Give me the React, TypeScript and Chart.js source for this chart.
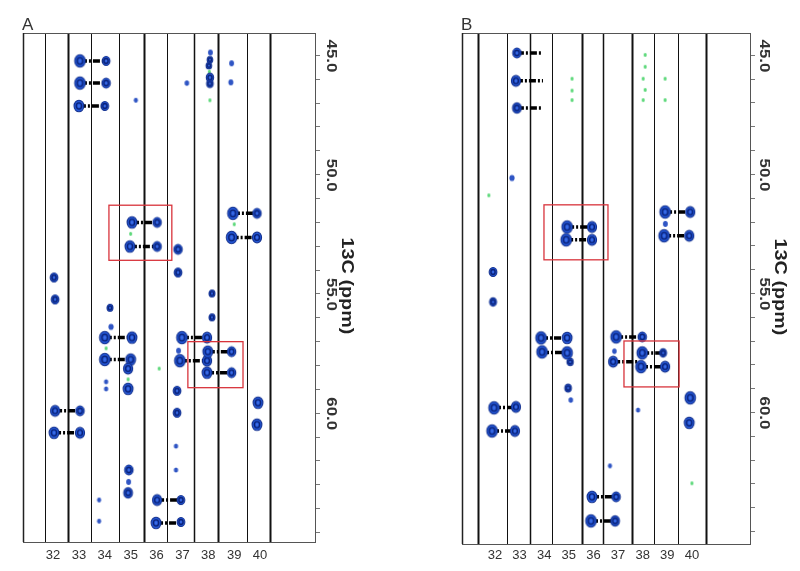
import React, { useEffect, useRef } from "react";
import { Chart, registerables } from "chart.js";
Chart.register(...registerables);

// ---------- shared axis text ----------
const stripLabels = [32, 33, 34, 35, 36, 37, 38, 39, 40];
const ppmLabelTicks = [45, 50, 55, 60];
const ppmMinorTicks = [45, 46, 47, 48, 49, 50, 51, 52, 53, 54, 55, 56, 57, 58, 59, 60, 61, 62, 63, 64, 65];
const axisTitle = "13C (ppm)";

// ---------- Panel A ----------
const edgesA = [31.69, 32.58, 33.47, 34.55, 35.51, 36.4, 37.44, 38.37, 39.49, 40.38];
const edgeWeightA = [1, 2, 1, 1, 2, 1, 1.5, 2, 1, 2];
// [strip position, 13C ppm, relative intensity]
const peaksA: [number, number, number][] = [
  [33.04, 45.25, 1], [34.05, 45.25, 0.6],
  [33.04, 46.18, 1], [34.05, 46.18, 0.7],
  [33.0, 47.14, 0.9], [34.0, 47.14, 0.6],
  [38.08, 44.9, 0.2], [38.06, 45.2, 0.3], [38.02, 45.45, 0.3], [38.06, 45.95, 0.55], [38.06, 46.2, 0.45],
  [38.9, 45.35, 0.2], [38.87, 46.15, 0.22], [37.17, 46.18, 0.15], [35.2, 46.9, 0.1],
  [35.05, 52.02, 0.9], [36.02, 52.02, 0.7], [34.97, 53.03, 0.9], [36.02, 53.03, 0.7],
  [36.83, 53.15, 0.7], [36.83, 54.12, 0.6],
  [38.95, 51.64, 1], [39.88, 51.64, 0.7], [38.9, 52.65, 1], [39.88, 52.65, 0.8],
  [32.04, 54.33, 0.6], [32.08, 55.25, 0.6],
  [34.2, 55.6, 0.35], [34.24, 56.4, 0.25],
  [34.0, 56.85, 1], [35.05, 56.85, 0.9], [34.0, 57.77, 1], [35.0, 57.77, 0.9],
  [34.9, 58.15, 0.8], [34.9, 59.0, 0.9], [34.05, 58.7, 0.12], [34.05, 59.0, 0.12],
  [32.08, 59.92, 0.8], [33.04, 59.92, 0.7], [32.04, 60.84, 0.9], [33.04, 60.84, 0.8],
  [34.93, 62.4, 0.7], [34.92, 62.9, 0.2], [34.9, 63.36, 0.75],
  [36.02, 63.66, 0.8], [36.94, 63.66, 0.6], [35.98, 64.62, 0.9], [36.94, 64.58, 0.6],
  [33.78, 63.66, 0.1], [33.78, 64.55, 0.1],
  [36.98, 56.85, 1], [37.95, 56.85, 0.8], [36.9, 57.82, 1], [37.95, 57.82, 0.8],
  [36.85, 57.4, 0.2],
  [37.98, 57.44, 0.9], [38.9, 57.44, 0.7], [37.95, 58.32, 0.9], [38.9, 58.32, 0.7],
  [36.79, 59.08, 0.6], [36.79, 60.0, 0.6], [36.75, 61.4, 0.12], [36.75, 62.4, 0.12],
  [38.14, 55.0, 0.35], [38.14, 56.0, 0.35],
  [39.92, 59.58, 0.9], [39.88, 60.5, 0.9],
];
const greenA: [number, number][] = [
  [38.06, 46.9], [38.04, 45.7], [36.1, 58.15], [35.0, 52.5], [39.0, 52.1], [34.05, 57.3], [34.9, 58.6],
];
// [from strip, to strip, 13C ppm]
const linksA: [number, number, number][] = [
  [33.04, 34.05, 45.25], [33.04, 34.05, 46.18], [33.0, 34.0, 47.14],
  [35.05, 36.02, 52.02], [34.97, 36.02, 53.03],
  [38.95, 39.88, 51.64], [38.9, 39.88, 52.65],
  [34.0, 35.05, 56.85], [34.0, 35.0, 57.77],
  [32.08, 33.04, 59.92], [32.04, 33.04, 60.84],
  [36.02, 36.94, 63.66], [35.98, 36.94, 64.62],
  [36.98, 37.95, 56.85], [36.9, 37.95, 57.82],
  [37.98, 38.9, 57.44], [37.95, 38.9, 58.32],
];
// [x1, x2, ppm1, ppm2]
const boxesA: [number, number, number, number][] = [
  [34.16, 36.59, 51.3, 53.61],
  [37.21, 39.34, 57.02, 58.95],
];

// ---------- Panel B ----------
const edgesB = [31.31, 32.49, 33.42, 34.32, 35.54, 36.39, 37.57, 38.46, 39.44, 40.58];
const edgeWeightB = [2, 1, 1.5, 1, 2, 1.5, 2, 1, 1, 2];
const peaksB: [number, number, number][] = [
  [32.89, 44.92, 0.7], [32.85, 46.09, 0.8], [32.89, 47.23, 0.75],
  [32.69, 50.17, 0.25],
  [31.92, 54.12, 0.6], [31.92, 55.38, 0.5],
  [34.93, 52.23, 1], [35.94, 52.23, 0.8], [34.89, 52.77, 1], [35.94, 52.77, 0.8],
  [38.91, 51.6, 1], [39.93, 51.6, 0.8], [38.87, 52.6, 1], [39.89, 52.6, 0.8], [38.92, 52.1, 0.2],
  [33.87, 56.89, 1], [34.93, 56.89, 0.9], [33.91, 57.48, 1], [34.93, 57.52, 1], [35.05, 57.9, 0.4],
  [34.97, 59.0, 0.45], [35.08, 59.5, 0.15],
  [31.96, 59.83, 1], [32.85, 59.79, 0.8], [31.88, 60.8, 1], [32.81, 60.8, 0.8],
  [35.94, 63.57, 0.9], [36.92, 63.57, 0.7], [35.9, 64.58, 1], [36.88, 64.58, 0.75],
  [36.92, 56.85, 1], [37.98, 56.85, 0.7], [36.8, 57.89, 0.8], [36.85, 57.45, 0.15],
  [37.98, 57.52, 1], [38.83, 57.52, 0.5], [37.93, 58.1, 1], [38.91, 58.1, 0.8],
  [39.93, 59.41, 1], [39.89, 60.46, 0.9],
  [37.81, 59.92, 0.12], [36.67, 62.27, 0.1],
];
const greenB: [number, number][] = [
  [38.1, 45.0], [38.1, 45.5], [38.02, 46.0], [38.1, 46.47], [38.02, 46.9],
  [35.13, 46.0], [35.13, 46.5], [35.13, 46.9], [38.91, 46.0], [38.91, 46.9],
  [31.75, 50.9], [40.0, 63.0],
];
const linksB: [number, number, number][] = [
  [32.89, 33.87, 44.92], [32.85, 33.95, 46.09], [32.89, 33.87, 47.23],
  [34.93, 35.94, 52.23], [34.89, 35.94, 52.77],
  [38.91, 39.93, 51.6], [38.87, 39.89, 52.6],
  [33.87, 34.93, 56.89], [33.91, 34.93, 57.5],
  [31.96, 32.85, 59.82], [31.88, 32.81, 60.8],
  [35.94, 36.92, 63.57], [35.9, 36.88, 64.58],
  [36.92, 37.98, 56.85], [36.8, 37.85, 57.89],
  [37.98, 38.83, 57.52], [37.93, 38.91, 58.1],
];
const boxesB: [number, number, number, number][] = [
  [33.99, 36.59, 51.3, 53.61],
  [37.24, 39.48, 57.02, 58.95],
];

// ---------- peak glyphs ----------
const glyphCache: Record<string, HTMLCanvasElement> = {};
function peakGlyph(intensity: number, green: boolean): HTMLCanvasElement {
  const key = (green ? "g" : "b") + intensity.toFixed(2);
  if (glyphCache[key]) return glyphCache[key];
  const w = green ? 3 : Math.max(2.5, 3.5 + 7 * intensity);
  const h = green ? 4 : w * 1.18;
  const c = document.createElement("canvas");
  c.width = Math.ceil(w) + 4;
  c.height = Math.ceil(h) + 4;
  const g = c.getContext("2d")!;
  const cx = c.width / 2, cy = c.height / 2;
  if (green) {
    g.fillStyle = "#5ad878";
    g.beginPath();
    g.ellipse(cx, cy, w / 2, h / 2, 0, 0, Math.PI * 2);
    g.fill();
  } else if (intensity < 0.3) {
    g.fillStyle = "#2f55c4";
    g.beginPath();
    g.ellipse(cx, cy, w / 2, h / 2, 0, 0, Math.PI * 2);
    g.fill();
  } else {
    g.fillStyle = "#2458d8";
    g.beginPath();
    g.ellipse(cx, cy, w / 2, h / 2, 0, 0, Math.PI * 2);
    g.fill();
    g.strokeStyle = "#12308f";
    g.lineWidth = 1.1;
    g.stroke();
    g.strokeStyle = "#0b2278";
    g.lineWidth = 1.4;
    g.beginPath();
    g.ellipse(cx, cy, w * 0.27, h * 0.27, 0, 0, Math.PI * 2);
    g.stroke();
    g.fillStyle = "#3d6de6";
    g.beginPath();
    g.ellipse(cx, cy, w * 0.12, h * 0.12, 0, 0, Math.PI * 2);
    g.fill();
  }
  glyphCache[key] = c;
  return c;
}

// ---------- frame / axis plugin ----------
const nmrFrame = {
  id: "nmrFrame",
  beforeDatasetsDraw(chart: any, _a: any, o: any) {
    const { ctx, chartArea: a, scales } = chart;
    const xs = scales.x;
    ctx.save();
    ctx.strokeStyle = "#111";
    o.edges.forEach((e: number, i: number) => {
      const px = Math.round(xs.getPixelForValue(e)) + 0.5;
      ctx.lineWidth = o.weights[i];
      ctx.beginPath();
      ctx.moveTo(px, a.top);
      ctx.lineTo(px, a.bottom);
      ctx.stroke();
    });
    ctx.restore();
  },
  afterDatasetsDraw(chart: any, _a: any, o: any) {
    const { ctx, chartArea: a, scales } = chart;
    const xs = scales.x, ys = scales.y;
    ctx.save();
    // red boxes
    ctx.strokeStyle = "#d8343c";
    ctx.lineWidth = 1.3;
    o.boxes.forEach(([x1, x2, y1, y2]: number[]) => {
      const l = xs.getPixelForValue(x1), r = xs.getPixelForValue(x2);
      const t = ys.getPixelForValue(y1), b = ys.getPixelForValue(y2);
      ctx.strokeRect(l, t, r - l, b - t);
    });
    // frame
    ctx.strokeStyle = "#555";
    ctx.lineWidth = 1;
    ctx.strokeRect(a.left + 0.5, a.top + 0.5, a.right - a.left - 1, a.bottom - a.top);
    ctx.strokeStyle = "#222";
    ctx.lineWidth = 1.5;
    ctx.beginPath();
    ctx.moveTo(a.left + 0.5, a.top);
    ctx.lineTo(a.left + 0.5, a.bottom);
    ctx.stroke();
    // right ticks
    ctx.strokeStyle = "#777";
    ctx.lineWidth = 1;
    ppmMinorTicks.forEach((v) => {
      const py = Math.round(ys.getPixelForValue(v)) + 0.5;
      ctx.beginPath();
      ctx.moveTo(a.right, py);
      ctx.lineTo(a.right + 4, py);
      ctx.stroke();
    });
    // rotated tick labels
    ctx.fillStyle = "#333";
    ctx.textAlign = "center";
    ctx.textBaseline = "middle";
    ctx.font = "bold 14px 'Liberation Sans', Arial, sans-serif";
    ppmLabelTicks.forEach((v) => {
      const py = ys.getPixelForValue(v);
      ctx.save();
      ctx.translate(a.right + o.tickOffset, py + 1);
      ctx.rotate(Math.PI / 2);
      ctx.scale(1.2, 1);
      ctx.fillText(v.toFixed(1), 0, 0);
      ctx.restore();
    });
    // title
    ctx.font = "bold 16.5px 'Liberation Sans', Arial, sans-serif";
    ctx.fillStyle = "#222";
    ctx.save();
    ctx.translate(a.right + o.titleOffset, o.titleY);
    ctx.rotate(Math.PI / 2);
    ctx.scale(1.2, 1);
    ctx.fillText(axisTitle, 0, 0);
    ctx.restore();
    // strip labels
    ctx.font = "13px 'Liberation Sans', Arial, sans-serif";
    ctx.fillStyle = "#333";
    stripLabels.forEach((k) => {
      ctx.fillText(String(k), xs.getPixelForValue(k), 555);
    });
    // panel letter
    ctx.font = "17px 'Liberation Sans', Arial, sans-serif";
    ctx.textAlign = "left";
    ctx.textBaseline = "alphabetic";
    ctx.fillStyle = "#333";
    ctx.fillText(o.letter, a.left - 1, a.top - 3);
    ctx.restore();
  },
};

function buildLinks(links: [number, number, number][]) {
  const out: any[] = [];
  links.forEach(([x1, x2, y]) => {
    out.push({ x: x1, y });
    out.push({ x: x2, y });
    out.push({ x: x2, y: null });
  });
  return out;
}

type Spec = {
  letter: string;
  xMin: number; xMax: number; yMin: number; yMax: number;
  pad: { left: number; top: number; right: number; bottom: number };
  edges: number[]; weights: number[];
  peaks: [number, number, number][];
  green: [number, number][];
  links: [number, number, number][];
  boxes: [number, number, number, number][];
  tickOffset: number; titleOffset: number; titleY: number;
};

const specA: Spec = {
  letter: "A", xMin: 30.84, xMax: 42.16, yMin: 44.08, yMax: 65.42,
  pad: { left: 23, top: 33, right: 84, bottom: 29 },
  edges: edgesA, weights: edgeWeightA, peaks: peaksA, green: greenA, links: linksA, boxes: boxesA,
  tickOffset: 15, titleOffset: 31, titleY: 286,
};
const specB: Spec = {
  letter: "B", xMin: 30.66, xMax: 42.4, yMin: 44.08, yMax: 65.55,
  pad: { left: 62, top: 33, right: 49, bottom: 27 },
  edges: edgesB, weights: edgeWeightB, peaks: peaksB, green: greenB, links: linksB, boxes: boxesB,
  tickOffset: 13, titleOffset: 29, titleY: 287,
};

function Panel({ spec, left }: { spec: Spec; left: number }) {
  const ref = useRef<HTMLCanvasElement>(null);
  useEffect(() => {
    const chart = new Chart(ref.current!, {
      type: "scatter",
      data: {
        datasets: [
          {
            label: "peaks",
            order: 0,
            data: spec.peaks.map(([x, y, i]) => ({ x, y, i })) as any,
            pointStyle: ((c: any) => peakGlyph(c.raw ? c.raw.i : 0.5, false)) as any,
            pointRadius: 5,
          },
          {
            label: "green",
            order: 1,
            data: spec.green.map(([x, y]) => ({ x, y })),
            pointStyle: peakGlyph(0, true) as any,
            pointRadius: 3,
          },
          {
            label: "links",
            order: 2,
            data: buildLinks(spec.links),
            showLine: true,
            spanGaps: false,
            pointRadius: 0,
            borderColor: "#000",
            borderWidth: 3.5,
            borderDash: [7, 2, 2, 2],
          } as any,
        ],
      },
      options: {
        responsive: false,
        animation: false,
        devicePixelRatio: 1,
        events: [],
        layout: { padding: spec.pad },
        scales: {
          x: { type: "linear", min: spec.xMin, max: spec.xMax, display: false },
          y: { type: "linear", min: spec.yMin, max: spec.yMax, reverse: true, display: false },
        },
        plugins: {
          legend: { display: false },
          tooltip: { enabled: false },
          nmrFrame: spec as any,
        } as any,
      },
      plugins: [nmrFrame as any],
    });
    return () => chart.destroy();
  }, [spec]);
  return (
    <canvas
      ref={ref}
      width={400}
      height={571}
      style={{ position: "absolute", left, top: 0, width: 400, height: 571 }}
    />
  );
}

export default function App() {
  return (
    <div style={{ position: "absolute", left: 0, top: 0, width: 800, height: 571, background: "#fff", overflow: "hidden" }}>
      <Panel spec={specA} left={0} />
      <Panel spec={specB} left={400} />
    </div>
  );
}
